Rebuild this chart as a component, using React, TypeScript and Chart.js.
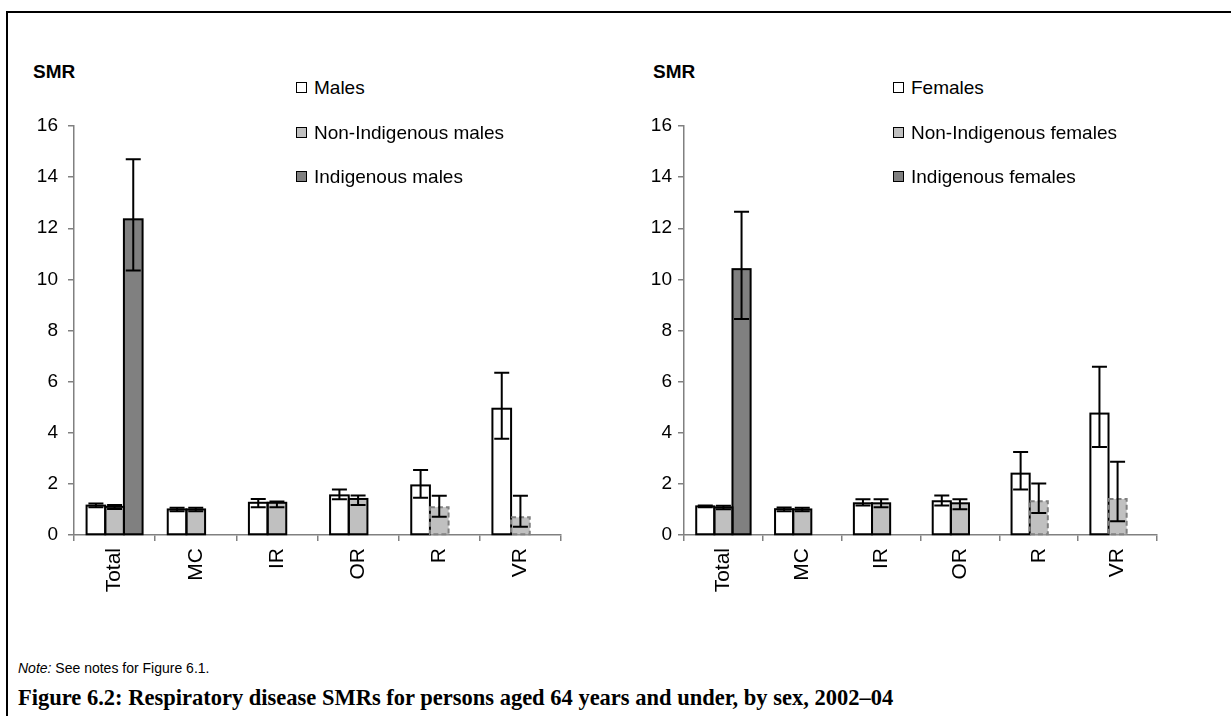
import React, { useEffect, useRef } from "react";
import { Chart, registerables } from "chart.js";

Chart.register(...registerables);

const categories = ["Total", "MC", "IR", "OR", "R", "VR"];
const yMin = 0;
const yMax = 16;
const yStep = 2;

// Males panel
const malesLabels = ["Males", "Non-Indigenous males", "Indigenous males"];
const malesSMR = [1.15, 1.0, 1.26, 1.55, 1.94, 4.94];
const malesLow = [1.09, 0.93, 1.09, 1.4, 1.46, 3.77];
const malesHigh = [1.23, 1.07, 1.41, 1.78, 2.54, 6.35];
const nonIndMalesSMR = [1.1, 1.0, 1.26, 1.41, 1.09, 0.69];
const nonIndMalesLow = [1.02, 0.93, 1.09, 1.17, 0.71, 0.32];
const nonIndMalesHigh = [1.17, 1.07, 1.31, 1.55, 1.54, 1.54];
const indMalesSMR = [12.35, null, null, null, null, null];
const indMalesLow = [10.35, null, null, null, null, null];
const indMalesHigh = [14.7, null, null, null, null, null];

// Females panel
const femalesLabels = ["Females", "Non-Indigenous females", "Indigenous females"];
const femalesSMR = [1.12, 1.01, 1.24, 1.32, 2.4, 4.75];
const femalesLow = [1.09, 0.93, 1.15, 1.15, 1.78, 3.44];
const femalesHigh = [1.15, 1.08, 1.4, 1.55, 3.25, 6.58];
const nonIndFemalesSMR = [1.08, 1.0, 1.24, 1.24, 1.32, 1.41];
const nonIndFemalesLow = [1.01, 0.93, 1.09, 1.01, 0.86, 0.54];
const nonIndFemalesHigh = [1.14, 1.07, 1.4, 1.4, 2.01, 2.87];
const indFemalesSMR = [10.4, null, null, null, null, null];
const indFemalesLow = [8.45, null, null, null, null, null];
const indFemalesHigh = [12.65, null, null, null, null, null];

// Estimates flagged as unreliable (drawn with a dashed outline)
const nonIndUnreliable = [false, false, false, false, true, true];

const seriesColors = ["#ffffff", "#c0c0c0", "#808080"];
const FONT = "'Liberation Sans', Arial, Helvetica, sans-serif";

const outlineAndErrorPlugin = {
  id: "outlineAndError",
  afterDatasetsDraw(chart: any) {
    const ctx = chart.ctx;
    const yScale = chart.scales.y;
    ctx.save();
    chart.data.datasets.forEach((ds: any, di: number) => {
      const meta = chart.getDatasetMeta(di);
      meta.data.forEach((bar: any, j: number) => {
        const v = ds.data[j];
        if (v === null || v === undefined) return;
        const w = bar.width;
        const left = bar.x - w / 2;
        const top = Math.min(bar.y, bar.base);
        const h = Math.abs(bar.base - bar.y);
        const dashed = ds.unreliable && ds.unreliable[j];
        ctx.beginPath();
        ctx.lineWidth = 2;
        if (dashed) {
          ctx.setLineDash([5, 3]);
          ctx.strokeStyle = "#808080";
        } else {
          ctx.setLineDash([]);
          ctx.strokeStyle = "#000000";
        }
        ctx.strokeRect(left, top, w, h);
        ctx.setLineDash([]);
      });
    });
    chart.data.datasets.forEach((ds: any, di: number) => {
      const meta = chart.getDatasetMeta(di);
      meta.data.forEach((bar: any, j: number) => {
        const lo = ds.errLow ? ds.errLow[j] : null;
        const hi = ds.errHigh ? ds.errHigh[j] : null;
        if (lo === null || hi === null || lo === undefined || hi === undefined) return;
        const x = bar.x;
        const yLo = yScale.getPixelForValue(lo);
        const yHi = yScale.getPixelForValue(hi);
        const cap = 7.5;
        ctx.beginPath();
        ctx.lineWidth = 2;
        ctx.strokeStyle = "#000000";
        ctx.moveTo(x, yLo);
        ctx.lineTo(x, yHi);
        ctx.moveTo(x - cap, yLo);
        ctx.lineTo(x + cap, yLo);
        ctx.moveTo(x - cap, yHi);
        ctx.lineTo(x + cap, yHi);
        ctx.stroke();
      });
    });
    ctx.restore();
  },
};

type PanelProps = {
  left: number;
  top: number;
  width: number;
  height: number;
  rightPad: number;
  tickPad: number;
  labels: string[];
  values: (number | null)[][];
  lows: (number | null)[][];
  highs: (number | null)[][];
};

function ChartPanel(props: PanelProps) {
  const ref = useRef<HTMLCanvasElement | null>(null);
  useEffect(() => {
    if (!ref.current) return;
    const chart = new Chart(ref.current, {
      type: "bar",
      data: {
        labels: categories,
        datasets: props.values.map((vals, i) => ({
          label: props.labels[i],
          data: vals,
          backgroundColor: seriesColors[i],
          borderWidth: 0,
          categoryPercentage: 0.69,
          barPercentage: 1.0,
          errLow: props.lows[i],
          errHigh: props.highs[i],
          unreliable: i === 1 ? nonIndUnreliable : null,
        })) as any,
      },
      options: {
        responsive: false,
        animation: false,
        devicePixelRatio: 1,
        layout: { padding: { left: 0, top: 26, right: props.rightPad, bottom: 0 } },
        plugins: {
          legend: { display: false },
          tooltip: { enabled: false },
        },
        scales: {
          x: {
            grid: {
              offset: true,
              drawOnChartArea: false,
              drawTicks: true,
              tickLength: 6,
              color: "#808080",
              lineWidth: 1.5,
            },
            border: { display: true, color: "#808080", width: 1.5 },
            ticks: {
              color: "#000000",
              font: { family: FONT, size: 21 },
              maxRotation: 90,
              minRotation: 90,
              padding: 7,
              autoSkip: false,
            },
            afterFit: (s: any) => {
              s.height = 105;
            },
          },
          y: {
            min: yMin,
            max: yMax,
            ticks: {
              stepSize: yStep,
              color: "#000000",
              font: { family: FONT, size: 19 },
              padding: props.tickPad,
            },
            grid: {
              drawOnChartArea: false,
              drawTicks: true,
              tickLength: 6,
              color: "#808080",
              lineWidth: 1.5,
            },
            border: { display: true, color: "#808080", width: 1.5 },
            afterFit: (s: any) => {
              s.width = 74;
            },
          },
        },
      },
      plugins: [outlineAndErrorPlugin],
    });
    return () => chart.destroy();
  }, []);
  return (
    <canvas
      ref={ref}
      width={props.width}
      height={props.height}
      style={{
        position: "absolute",
        left: props.left,
        top: props.top,
        width: props.width,
        height: props.height,
      }}
    />
  );
}

function Legend(props: { left: number; labels: string[] }) {
  const rows = [78, 122.5, 167];
  return (
    <>
      {props.labels.map((lab, i) => (
        <div
          key={lab}
          style={{
            position: "absolute",
            left: props.left,
            top: rows[i],
            height: 19,
            display: "flex",
            alignItems: "center",
            fontFamily: FONT,
            fontSize: 19,
            lineHeight: "19px",
            whiteSpace: "nowrap",
            color: "#000",
          }}
        >
          <span
            style={{
              display: "inline-block",
              width: 9,
              height: 9,
              border: "1.5px solid #000",
              background: seriesColors[i],
              marginRight: 7,
            }}
          />
          <span>{lab}</span>
        </div>
      ))}
    </>
  );
}

function SmrTitle(props: { left: number }) {
  return (
    <div
      style={{
        position: "absolute",
        left: props.left,
        top: 62,
        fontFamily: FONT,
        fontWeight: "bold",
        fontSize: 19,
        lineHeight: "19px",
        color: "#000",
      }}
    >
      SMR
    </div>
  );
}

export default function App() {
  return (
    <div
      style={{
        position: "absolute",
        left: 0,
        top: 0,
        width: 1231,
        height: 716,
        overflow: "hidden",
        background: "#fff",
      }}
    >
      <div
        style={{
          position: "absolute",
          left: 6,
          top: 11,
          width: 1260,
          height: 760,
          borderTop: "2px solid #000",
          borderLeft: "2px solid #000",
        }}
      />
      <ChartPanel
        left={0}
        top={100}
        width={600}
        height={540}
        rightPad={39}
        tickPad={10}
        labels={malesLabels}
        values={[malesSMR, nonIndMalesSMR, indMalesSMR]}
        lows={[malesLow, nonIndMalesLow, indMalesLow]}
        highs={[malesHigh, nonIndMalesHigh, indMalesHigh]}
      />
      <ChartPanel
        left={610}
        top={100}
        width={600}
        height={540}
        rightPad={53}
        tickPad={6}
        labels={femalesLabels}
        values={[femalesSMR, nonIndFemalesSMR, indFemalesSMR]}
        lows={[femalesLow, nonIndFemalesLow, indFemalesLow]}
        highs={[femalesHigh, nonIndFemalesHigh, indFemalesHigh]}
      />
      <SmrTitle left={33} />
      <SmrTitle left={653} />
      <Legend left={296} labels={malesLabels} />
      <Legend left={893} labels={femalesLabels} />
      <div
        style={{
          position: "absolute",
          left: 18,
          top: 661,
          fontFamily: FONT,
          fontSize: 14,
          lineHeight: "14px",
          color: "#000",
          whiteSpace: "nowrap",
        }}
      >
        <i>Note:</i> See notes for Figure 6.1.
      </div>
      <div
        style={{
          position: "absolute",
          left: 18,
          top: 687,
          fontFamily: "'Liberation Serif', 'Times New Roman', serif",
          fontWeight: "bold",
          fontSize: 22.5,
          lineHeight: "22px",
          color: "#000",
          whiteSpace: "nowrap",
        }}
      >
        Figure 6.2: Respiratory disease SMRs for persons aged 64 years and under, by sex, 2002–04
      </div>
    </div>
  );
}
